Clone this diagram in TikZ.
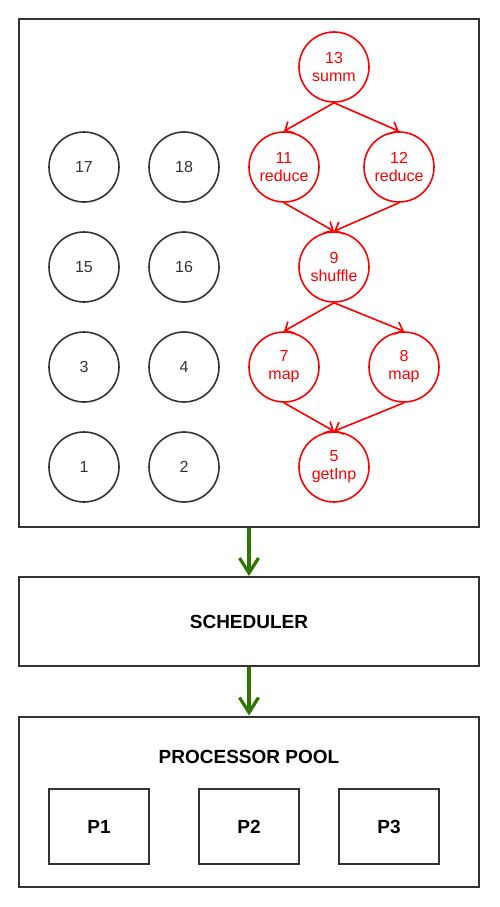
\documentclass[tikz,border=0pt]{standalone}
\usepackage{fontspec}
\setmainfont{Liberation Sans}
\usepackage{xcolor}
\usetikzlibrary{arrows.meta,positioning}
\definecolor{darkline}{HTML}{333333}
\definecolor{flowgreen}{HTML}{2D7600}
\begin{document}
\begin{tikzpicture}[x=1pt,y=-1pt,
    frame/.style={draw=darkline,line width=2pt,minimum width=460pt},
    task/.style={circle,draw=darkline,line width=1.6pt,minimum size=70pt,inner sep=0pt,
      font=\fontsize{16}{18}\selectfont,text=darkline},
    redtask/.style={task,draw=red,text=red,align=center},
    redflow/.style={draw=red,line width=1.6pt,-{Straight Barb[length=7pt,width=13pt]}},
    flow/.style={draw=flowgreen,line width=3.2pt,-{Straight Barb[length=15pt,width=19pt]}},
    proc/.style={draw=darkline,line width=1.6pt,minimum width=100pt,minimum height=75pt,
      font=\fontsize{19}{22}\selectfont\bfseries}]
      \useasboundingbox (0,0) rectangle (499,907);
      % Draw the boxes
      \node[frame,minimum height=508pt] (graph) at (249,273) {};
      \node[frame,minimum height=89pt,font=\fontsize{19}{22}\selectfont\bfseries] (sched) at (249,621.5) {SCHEDULER};
      \node[frame,minimum height=170pt] (pool) at (249,801.5) {};
      \node[font=\fontsize{19}{22}\selectfont\bfseries] (pooltitle) at (249,757) {PROCESSOR POOL};
      % processors
      \node[proc] (p1) at (99,826.5) {P1};
      \node[proc] (p2) at (249,826.5) {P2};
      \node[proc] (p3) at (389,826.5) {P3};
      % idle tasks
      \node[task] (t17) at (84,167) {17};
      \node[task] (t18) at (184,167) {18};
      \node[task] (t15) at (84,267) {15};
      \node[task] (t16) at (184,267) {16};
      \node[task] (t3) at (84,367) {3};
      \node[task] (t4) at (184,367) {4};
      \node[task] (t1) at (84,467) {1};
      \node[task] (t2) at (184,467) {2};
      % job graph
      \node[redtask] (t13) at (334,67) {13\\summ};
      \node[redtask] (t11) at (284,167) {11\\reduce};
      \node[redtask] (t12) at (399,167) {12\\reduce};
      \node[redtask] (t9) at (334,267) {9\\shuffle};
      \node[redtask] (t7) at (284,367) {7\\map};
      \node[redtask] (t8) at (404,367) {8\\map};
      \node[redtask] (t5) at (334,467) {5\\getInp};
      \draw[redflow] (t13.south) -- (t11.north);
      \draw[redflow] (t13.south) -- (t12.north);
      \draw[redflow] (t11.south) -- (t9.north);
      \draw[redflow] (t12.south) -- (t9.north);
      \draw[redflow] (t9.south) -- (t7.north);
      \draw[redflow] (t9.south) -- (t8.north);
      \draw[redflow] (t7.south) -- (t5.north);
      \draw[redflow] (t8.south) -- (t5.north);
      % flow between the boxes
      \draw[flow] (graph.south) -- (sched.north);
      \draw[flow] (sched.south) -- (pool.north);
    \end{tikzpicture}
\end{document}
